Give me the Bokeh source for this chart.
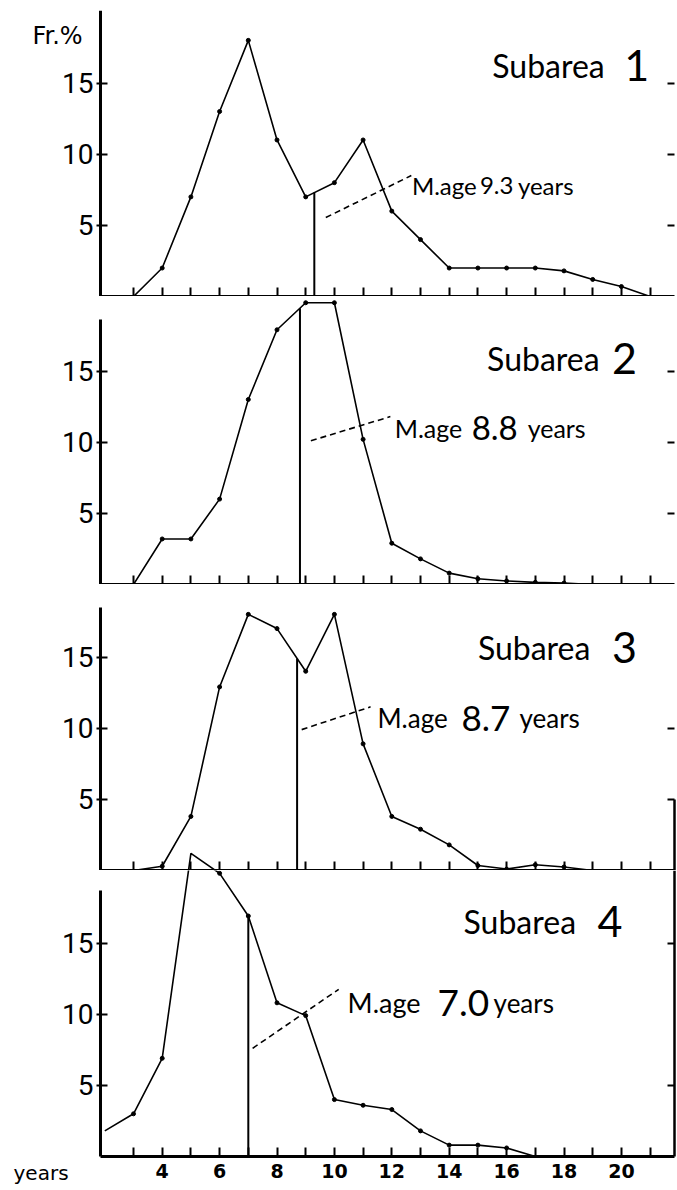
import numpy as np
from bokeh.plotting import figure
from bokeh.layouts import column
from bokeh.models import Range1d, LinearAxis, FixedTicker
from bokeh.embed import file_html
from bokeh.resources import INLINE
from bokeh.core.properties import value

# ---------------- data ----------------
subareas = ["1", "2", "3", "4"]

ages1 = list(range(3, 22))
freq1 = [0, 2, 7, 13, 18, 11, 7, 8, 11, 6, 4, 2, 2, 2, 2, 1.8, 1.2, 0.7, 0]

ages2 = list(range(3, 20))
freq2 = [0, 3.2, 3.2, 6, 13, 17.9, 19.8, 19.8, 10.2, 2.9, 1.8, 0.8, 0.4, 0.25, 0.15, 0.1, 0]

ages3 = list(range(3, 20))
freq3 = [0, 0.3, 3.8, 12.9, 18, 17, 14, 18, 8.9, 3.8, 2.9, 1.8, 0.35, 0.1, 0.4, 0.25, 0]

ages4 = list(range(2, 18))
freq4 = [1.8, 3.0, 6.9, 21.3, 19.9, 16.9, 10.8, 9.9, 4.0, 3.6, 3.3, 1.8, 0.8, 0.8, 0.6, 0]

mean_age = [9.3, 8.8, 8.7, 7.0]
mean_text = ["9.3", "8.8", "8.7", "7.0"]

x_tick_labels = [4, 6, 8, 10, 12, 14, 16, 18, 20]
x_minor_ticks = [3, 5, 7, 9, 11, 13, 15, 17, 19, 21]
x_all_ticks = list(range(3, 22))
y_ticks = [5, 10, 15]
right_ticks = [[5, 10, 15], [5, 10, 15], [5, 10], [5, 15]]

ages = [ages1, ages2, ages3, ages4]
freqs = [freq1, freq2, freq3, freq4]

# ---------------- layout / style ----------------
PX_X = 28.7            # px per year
PX_Y = 14.23           # px per percent
AX_L, AX_R = 1.85, 21.85
PAGE_W = 677
X0 = AX_L - 100 / PX_X
X1 = X0 + PAGE_W / PX_X
FRAME_H = [286, 288, 286, 286]
BOTTOM_EXTRA = 32       # room under the last panel for tick labels
left_top = [None, 18.6, 18.5, 18.7]
right_bounds = [None, None, (0, 5), "full"]

# leader (dash) line: x0, y0, x1, y1
leader = [(9.7, 5.55, 12.68, 8.5), (9.18, 10.1, 11.95, 11.8),
          (8.86, 9.9, 11.26, 11.5), (7.15, 7.6, 10.15, 11.75)]
# label: x, baseline y, offset of number, offset of "years", sizes
mlabel = [(12.7, 7.8, 68, 106, 24, 24, 24),
          (12.1, 11.0, 77, 133, 25, 33, 25),
          (11.5, 10.7, 84, 142, 26, 35, 26),
          (10.46, 10.8, 90, 146, 27, 37, 26)]
title_pos = [(15.5, 16.2, 132), (15.32, 15.9, 125), (15.0, 15.7, 134), (14.5, 16.5, 134)]

HAND = "Lato"
panels = []
for i in range(4):
    last = (i == 3)
    ytop = FRAME_H[i] / PX_Y
    ybot = -BOTTOM_EXTRA / PX_Y if last else 0
    fh = FRAME_H[i] + (BOTTOM_EXTRA if last else 0)
    p = figure(frame_width=PAGE_W, frame_height=fh,
               x_range=Range1d(X0, X1), y_range=Range1d(ybot, ytop),
               output_backend="svg", toolbar_location=None,
               x_axis_location=None, y_axis_location=None,
               min_border_left=0, min_border_right=0,
               min_border_top=10 if i == 0 else 0, min_border_bottom=0)
    p.outline_line_color = None
    p.xgrid.visible = False
    p.ygrid.visible = False
    for r in list(p.center):
        r.visible = False

    # bottom axis
    if last:
        xa = LinearAxis(ticker=FixedTicker(ticks=x_tick_labels, minor_ticks=x_minor_ticks),
                        fixed_location=0, bounds=(AX_L, AX_R))
        xa.major_label_text_font = "DejaVu Sans"
        xa.major_label_text_font_style = "bold"
        xa.major_label_text_font_size = "19px"
        xa.major_label_text_color = "black"
        xa.major_label_standoff = 7
        xa.minor_tick_in = 9
        xa.minor_tick_out = 0
        xa.minor_tick_line_width = 2
        xa.minor_tick_line_color = "black"
    else:
        xa = LinearAxis(ticker=FixedTicker(ticks=x_all_ticks, minor_ticks=[]),
                        fixed_location=0, bounds=(AX_L, AX_R))
        xa.major_label_text_font_size = "0px"
        xa.major_label_standoff = 0
        xa.minor_tick_out = 0
        xa.minor_tick_in = 0
    xa.major_tick_in = 9
    xa.major_tick_out = 0
    xa.major_tick_line_width = 2
    xa.major_tick_line_color = "black"
    xa.axis_line_width = 3
    xa.axis_line_color = "black"
    p.add_layout(xa, "below")

    # left axis
    ya = LinearAxis(ticker=FixedTicker(ticks=y_ticks, minor_ticks=[]),
                    fixed_location=AX_L,
                    bounds=(0, ytop if left_top[i] is None else left_top[i]))
    ya.axis_line_width = 3
    ya.axis_line_color = "black"
    ya.major_tick_in = 7
    ya.major_tick_out = 4
    ya.major_tick_line_width = 2
    ya.major_tick_line_color = "black"
    ya.minor_tick_in = 0
    ya.minor_tick_out = 0
    ya.major_label_standoff = 3
    ya.major_label_text_font = "Roboto"
    ya.major_label_text_font_size = "28px"
    ya.major_label_text_color = "black"
    p.add_layout(ya, "left")

    # right axis (ticks, partial lines)
    rb = right_bounds[i]
    if rb == "full":
        rb = (0, ytop)
    ra = LinearAxis(ticker=FixedTicker(ticks=right_ticks[i], minor_ticks=[]),
                    fixed_location=AX_R,
                    bounds=rb if rb is not None else "auto")
    ra.axis_line_width = 2.5
    ra.axis_line_color = "black" if rb is not None else None
    ra.major_tick_in = 7
    ra.major_tick_out = 0
    ra.major_tick_line_width = 2
    ra.major_tick_line_color = "black"
    ra.minor_tick_in = 0
    ra.minor_tick_out = 0
    ra.major_label_text_font_size = "0px"
    ra.major_label_standoff = 0
    p.add_layout(ra, "right")

    # data curve
    p.line(ages[i], freqs[i], line_color="black", line_width=1.6)
    p.scatter(ages[i][1:-1], freqs[i][1:-1], size=4, color="black")

    # mean age line
    m = mean_age[i]
    top = float(np.interp(m, ages[i], freqs[i]))
    p.segment(x0=[m], y0=[0], x1=[m], y1=[top], line_color="black", line_width=2)

    # leader dashed line
    lx0, ly0, lx1, ly1 = leader[i]
    p.line([lx0, lx1], [ly0, ly1], line_color="black", line_width=1.6, line_dash="6 4")

    # mean label
    tx, ty, off_num, off_yrs, s1, s2, s3 = mlabel[i]
    p.text(x=[tx], y=[ty], text=["M.age"], text_font=value(HAND),
           text_font_size=f"{s1}px", text_baseline="alphabetic", text_color="black")
    p.text(x=[tx], y=[ty], text=[mean_text[i]], x_offset=off_num, text_font=value(HAND),
           text_font_size=f"{s2}px", text_baseline="alphabetic", text_color="black")
    p.text(x=[tx], y=[ty], text=["years"], x_offset=off_yrs, text_font=value(HAND),
           text_font_size=f"{s3}px", text_baseline="alphabetic", text_color="black")

    # subarea title
    sx, sy, soff = title_pos[i]
    p.text(x=[sx], y=[sy], text=["Subarea"], text_font=value(HAND),
           text_font_size="32px", text_baseline="alphabetic", text_color="black")
    p.text(x=[sx], y=[sy], text=[subareas[i]], x_offset=soff, text_font=value(HAND),
           text_font_size="43px", text_baseline="alphabetic", text_color="black")

    panels.append(p)

# part of the subarea-4 curve that rises above its own frame (drawn one panel up)
shift = FRAME_H[2] / PX_Y
panels[2].line(ages4, [f - shift for f in freq4], line_color="black", line_width=1.6)

# axis captions
panels[0].text(x=[-0.52], y=[18.34], text=["Fr.%"], text_font=value("DejaVu Sans"),
               text_font_size="24px", text_baseline="alphabetic", text_color="black")
panels[3].text(x=[-1.18], y=[-1.15], text=["years"], text_font=value("DejaVu Sans"),
               text_font_size="20px", text_baseline="middle", text_color="black")

layout = column(*panels, spacing=0)
open("out.html", "w").write(file_html(layout, INLINE))
